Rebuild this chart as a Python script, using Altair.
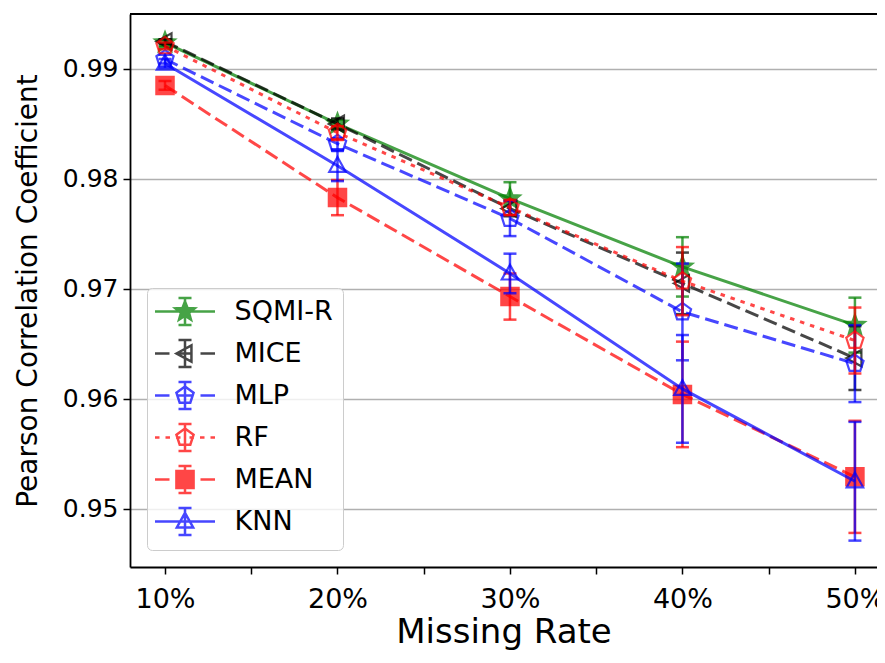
import math
import altair as alt
import pandas as pd

# ---------------- data ----------------
rates = [10, 20, 30, 40, 50]
methods = ["SQMI-R", "MICE", "MLP", "RF", "MEAN", "KNN"]

sqmi_mean = [0.9924, 0.9850, 0.9782, 0.9720, 0.9667]
sqmi_err = [0.0003, 0.0004, 0.0015, 0.0027, 0.0025]
mice_mean = [0.9925, 0.9850, 0.9773, 0.9705, 0.9637]
mice_err = [0.0002, 0.0005, 0.0007, 0.0028, 0.0029]
mlp_mean = [0.9909, 0.9832, 0.9764, 0.9679, 0.9632]
mlp_err = [0.0004, 0.0005, 0.0016, 0.0044, 0.0035]
rf_mean = [0.9921, 0.9842, 0.9774, 0.9707, 0.9653]
rf_err = [0.0003, 0.0006, 0.0007, 0.0031, 0.0030]
mean_mean = [0.9885, 0.9783, 0.9693, 0.9604, 0.9529]
mean_err = [0.0004, 0.0016, 0.0021, 0.0048, 0.0051]
knn_mean = [0.9905, 0.9812, 0.9714, 0.9609, 0.9525]
knn_err = [0.0004, 0.0014, 0.0018, 0.0049, 0.0054]

y_ticks = [0.95, 0.96, 0.97, 0.98, 0.99]
x_ticks = [10, 15, 20, 25, 30, 35, 40, 45, 50]

series_means = [sqmi_mean, mice_mean, mlp_mean, rf_mean, mean_mean, knn_mean]
series_errs = [sqmi_err, mice_err, mlp_err, rf_err, mean_err, knn_err]

rows = []
for m, means, errs in zip(methods, series_means, series_errs):
    for r, v, e in zip(rates, means, errs):
        rows.append({"method": m, "rate": r, "value": v, "lo": v - e, "hi": v + e})
df = pd.DataFrame(rows)

# ---------------- styles ----------------
def poly(points):
    return "M" + "L".join(f"{x:.3f},{y:.3f}" for x, y in points) + "Z"

def star_pts(r_out, r_in):
    pts = []
    for i in range(10):
        r = r_out if i % 2 == 0 else r_in
        a = -math.pi / 2 + i * math.pi / 5
        pts.append((r * math.cos(a), r * math.sin(a)))
    return pts

def pent_pts(r):
    return [(r * math.cos(-math.pi / 2 + i * 2 * math.pi / 5),
             r * math.sin(-math.pi / 2 + i * 2 * math.pi / 5)) for i in range(5)]

def scale_pts(pts, s):
    return [(x * s, y * s) for x, y in pts]

STAR = star_pts(1.0, 0.42)
PENT = pent_pts(1.0)
TRI_L = [(-1.0, 0.0), (0.75, -0.95), (0.75, 0.95)]
TRI_U = [(0.0, -1.0), (0.95, 0.7), (-0.95, 0.7)]
SQUARE = [(-1, -1), (1, -1), (1, 1), (-1, 1)]

GREEN, BLACK, BLUE, RED = "#008000", "#000000", "#0000ff", "#ff0000"
DASH = [14, 6]
DOT = [4.5, 6]

styles = {
    "SQMI-R": dict(color=GREEN, dash=None, pts=STAR, size=420, filled=True, kind="solid"),
    "MICE": dict(color=BLACK, dash=DASH, pts=TRI_L, size=300, filled=False, kind="dash"),
    "MLP": dict(color=BLUE, dash=DASH, pts=PENT, size=330, filled=False, kind="dash"),
    "RF": dict(color=RED, dash=DOT, pts=PENT, size=330, filled=False, kind="dot"),
    "MEAN": dict(color=RED, dash=DASH, pts=SQUARE, size=300, filled=True, kind="dash"),
    "KNN": dict(color=BLUE, dash=None, pts=TRI_U, size=300, filled=False, kind="solid"),
}

ALPHA = 0.72
W, H = 747, 553
xscale = alt.Scale(domain=[7.97, 51.28], nice=False, zero=False)
yscale = alt.Scale(domain=[0.9447, 0.995], nice=False, zero=False)

x_axis = alt.Axis(values=x_ticks, title="Missing Rate",
                  labelExpr="datum.value % 10 == 0 ? datum.value + '%' : ''",
                  grid=False, tickSize=7, tickWidth=1.5, tickColor="black",
                  domainColor="black", domainWidth=1.8,
                  labelFontSize=27, labelColor="black", labelPadding=12,
                  titleFontSize=34, titleFontWeight="normal", titleColor="black",
                  titlePadding=3, labelFlush=False)
y_axis = alt.Axis(values=y_ticks, title="Pearson Correlation Coefficient", format=".2f",
                  grid=True, gridColor="#b0b0b0", gridWidth=1.5,
                  tickSize=7, tickWidth=1.5, tickColor="black",
                  domainColor="black", domainWidth=1.8,
                  labelFontSize=25, labelColor="black", labelPadding=5,
                  titleFontSize=28, titleFontWeight="normal", titleColor="black",
                  titlePadding=20)

def X(field):
    return alt.X(field, type="quantitative", scale=xscale, axis=x_axis)

def Y(field):
    return alt.Y(field, type="quantitative", scale=yscale, axis=y_axis)

layers = []
for m in methods:
    st = styles[m]
    base = alt.Chart(df).transform_filter(alt.datum.method == m)
    line_kw = dict(color=st["color"], strokeWidth=3, opacity=ALPHA)
    if st["dash"]:
        line_kw["strokeDash"] = st["dash"]
    line = base.mark_line(**line_kw).encode(x=X("rate"), y=Y("value"))
    bar = base.mark_rule(color=st["color"], strokeWidth=2.5, opacity=ALPHA).encode(
        x=X("rate"), y=Y("lo"), y2="hi:Q")
    cap_lo = base.mark_tick(color=st["color"], orient="horizontal", size=13,
                            thickness=2.5, opacity=ALPHA).encode(x=X("rate"), y=Y("lo"))
    cap_hi = base.mark_tick(color=st["color"], orient="horizontal", size=13,
                            thickness=2.5, opacity=ALPHA).encode(x=X("rate"), y=Y("hi"))
    pt = base.mark_point(shape=poly(st["pts"]), size=st["size"], filled=st["filled"],
                         color=st["color"], stroke=st["color"], strokeWidth=2.2,
                         opacity=ALPHA).encode(x=X("rate"), y=Y("value"))
    layers += [line, bar, cap_lo, cap_hi, pt]

# ---------------- legend glyphs (line + error bar + marker) ----------------
def line_part(kind):
    if kind == "solid":
        return "M-3,0H3"
    if kind == "dash":
        return "M-3,0H-1.55M-0.7,0H0.7M1.55,0H3"
    segs = [(-3.0, -2.55), (-1.95, -1.5), (-0.9, -0.45), (0.45, 0.9), (1.5, 1.95), (2.55, 3.0)]
    return "".join(f"M{a},0H{b}" for a, b in segs)

ERR = "M0,-1.35V1.35M-0.65,-1.35H0.65M-0.65,1.35H0.65"
glyphs, fills, strokes = [], [], []
for m in methods:
    st = styles[m]
    rad = 0.9 * math.sqrt(st["size"] / 330.0)
    glyphs.append(line_part(st["kind"]) + ERR + poly(scale_pts(st["pts"], rad)))
    fills.append(st["color"] if st["filled"] else "transparent")
    strokes.append(st["color"])

legend = alt.Legend(title=None, orient="none", legendX=17, legendY=274,
                    symbolSize=400, symbolOffset=14.5, symbolStrokeWidth=2.5,
                    symbolOpacity=ALPHA, labelOffset=36, labelFontSize=27,
                    labelColor="black", labelFont="DejaVu Sans", padding=10,
                    rowPadding=5, fillColor="rgba(255,255,255,0.8)",
                    strokeColor="#cccccc", cornerRadius=5, labelLimit=300)

legend_layer = alt.Chart(df).transform_filter("false").mark_point(filled=True).encode(
    color=alt.Color("method:N", scale=alt.Scale(domain=methods, range=fills), legend=legend),
    stroke=alt.Stroke("method:N", scale=alt.Scale(domain=methods, range=strokes), legend=legend),
    shape=alt.Shape("method:N", scale=alt.Scale(domain=methods, range=glyphs), legend=legend),
)

top_spine = alt.Chart(df).mark_rule(color="black", strokeWidth=1.8).encode(
    x=alt.value(0), x2=alt.value(W), y=alt.value(0))

chart = alt.layer(*layers, top_spine, legend_layer).resolve_scale(
    color="independent", stroke="independent", shape="independent"
).properties(
    width=W, height=H,
    autosize=alt.AutoSizeParams(type="none"),
    padding={"left": 122, "top": 6, "right": 0, "bottom": 87},
    background="white",
).configure_view(strokeWidth=0).configure(font="DejaVu Sans")

chart.save("out.html", embed_options={"renderer": "svg", "actions": False})
